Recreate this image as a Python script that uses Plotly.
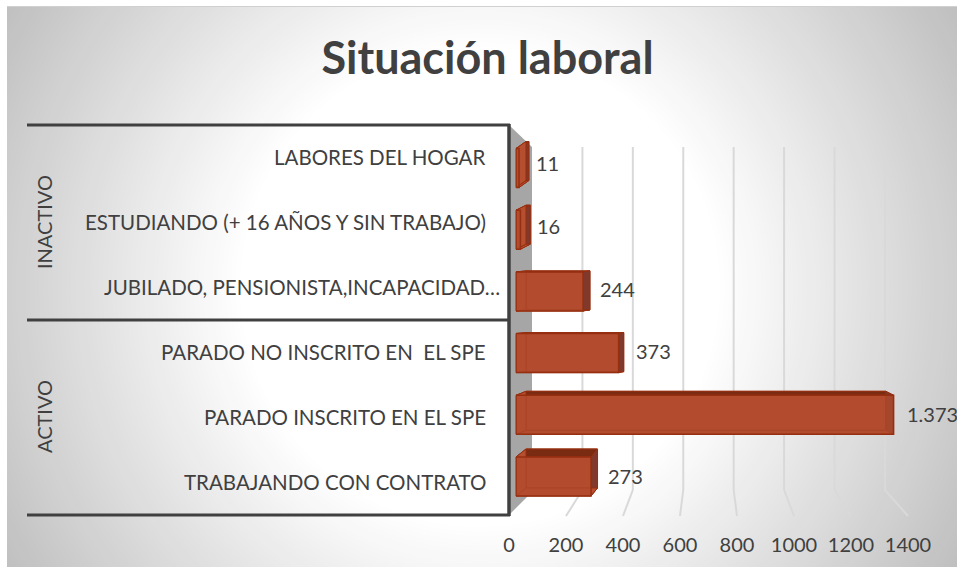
import plotly.graph_objects as go

W, H = 957, 578

categories = ["TRABAJANDO CON CONTRATO", "PARADO INSCRITO EN EL SPE", "PARADO NO INSCRITO EN  EL SPE",
              "JUBILADO, PENSIONISTA,INCAPACIDAD…", "ESTUDIANDO (+ 16 AÑOS Y SIN TRABAJO)", "LABORES DEL HOGAR"]
values = [273, 1373, 373, 244, 16, 11]
groups = ["ACTIVO", "INACTIVO"]
tick_values = [0, 200, 400, 600, 800, 1000, 1200, 1400]

FONT = "Lato"
TXT = "#404040"


def px(x):
    return x / W


def py(y):
    return 1 - y / H


# pixel geometry of the fake 3-D box
BAR_X0, BAR_K = 516, 0.275          # front plane of the bars
BACK_X0, BACK_K = 526, 0.262        # rear plane of the bars
TICK_X0, TICK_K = 509, 0.285        # floor front edge, carries tick labels
GRID_X0, GRID_K = 532, 0.2521       # back wall, carries gridlines
ROW0, ROW_STEP, BAR_H = 476.5, -61.7, 39
DEPTH_DY = [-8, -4, -1, -1, -5, -7]
LABEL_SHIFT = [0, 0, 0, 14, 0, 0]
VALUE_DY = [1, 1, 2, 2, 4, 5]
LABEL_LEFT = 488

shapes = []


def poly(points, fill, line="rgba(0,0,0,0)", lw=0, layer="below"):
    path = "M " + " L ".join(f"{px(x):.5f} {py(y):.5f}" for x, y in points) + " Z"
    shapes.append(dict(type="path", xref="paper", yref="paper", path=path, fillcolor=fill,
                       line=dict(color=line, width=lw), layer=layer))


def seg(x0, y0, x1, y1, color, lw):
    shapes.append(dict(type="line", xref="paper", yref="paper", x0=px(x0), y0=py(y0), x1=px(x1), y1=py(y1),
                       line=dict(color=color, width=lw), layer="below"))


# radial background
CX, CY, R_IN, R_OUT = 480, 287, 240, 560
STEPS = 70
for i in range(STEPS + 1):
    t = 1 - i / STEPS
    r = R_IN + (R_OUT - R_IN) * t
    g = round(255 - (255 - 190) * t)
    shapes.append(dict(type="circle", xref="paper", yref="paper", x0=px(CX - r), x1=px(CX + r),
                       y0=py(CY + r), y1=py(CY - r), fillcolor=f"rgb({g},{g},{g})",
                       line=dict(width=0), layer="below"))

# white margin around the chart area
poly([(0, 0), (W, 0), (W, 6), (0, 6)], "white")
poly([(0, 0), (7, 0), (7, H), (0, H)], "white")
poly([(0, 567), (W, 567), (W, H), (0, H)], "white")
seg(7, 6.5, W, 6.5, "#d0d0d0", 1)

# back-wall gridlines and floor lines
GRID_TOP, GRID_BOT, FLOOR = 147, 490, 516
for v in tick_values[1:]:
    gx = GRID_X0 + GRID_K * v
    tx = TICK_X0 + TICK_K * v
    col = "#d9d9d9"
    seg(gx, GRID_TOP, gx, GRID_BOT, col, 2)
    seg(gx, GRID_BOT, tx, FLOOR, col, 2)

# side wall
poly([(509, 125), (532, 147), (532, 492), (509, 515)], "#a6a6a6")

# category box
BOX = "#404040"
seg(27, 125, 510, 125, BOX, 3)
seg(27, 320, 510, 320, BOX, 3)
seg(27, 515, 510, 515, BOX, 3)
seg(509, 124, 509, 516, BOX, 3.5)

# rear faces of the bars, derived from the values
EDGE = "#962f10"
for i, v in enumerate(values):
    c = ROW0 + ROW_STEP * i
    ft, fb = c - BAR_H / 2, c + BAR_H / 2
    bt, bb = ft + DEPTH_DY[i], fb + DEPTH_DY[i]
    fr = BAR_X0 + BAR_K * v
    bl, br = BACK_X0, BACK_X0 + BACK_K * v
    poly([(bl, bt), (br, bt), (br, bb), (bl, bb)], "#b64e30", EDGE, 1)
    poly([(BAR_X0, ft), (bl, bt), (br, bt), (fr, ft)], "#7a2c12", EDGE, 1)
    poly([(fr, ft), (br, bt), (br, bb), (fr, fb)], "#80392a", EDGE, 1)
    poly([(BAR_X0, fb), (bl, bb), (br, bb), (fr, fb)], "#b64e30", EDGE, 1)
    poly([(BAR_X0, ft), (bl, bt), (bl, bb), (BAR_X0, fb)], "#b64e30", EDGE, 1)

fig = go.Figure()

# bars: their own axes, scaled to the front plane
fig.add_trace(go.Bar(x=values, y=categories, orientation="h", xaxis="x", yaxis="y", width=BAR_H / abs(ROW_STEP),
                     marker=dict(color="rgba(178,76,47,0.72)", line=dict(color=EDGE, width=1.5)),
                     hoverinfo="x+y", showlegend=False))
# anchor trace for the tick/label axes
fig.add_trace(go.Scatter(x=[0] * len(categories), y=categories, xaxis="x2", yaxis="y2", mode="markers",
                         marker=dict(opacity=0), hoverinfo="skip", showlegend=False))

annotations = []
for i, cat in enumerate(categories):
    annotations.append(dict(text=cat.replace("  ", "&nbsp; "), xref="paper", yref="y2", x=px(LABEL_LEFT), y=cat, xanchor="right",
                            yanchor="middle", xshift=LABEL_SHIFT[i], yshift=1, showarrow=False,
                            font=dict(family=FONT, size=20.5, color=TXT)))
    annotations.append(dict(text=f"{values[i]:,}".replace(",", "."), xref="x", yref="y", x=values[i], y=cat,
                            xanchor="left", yanchor="middle", xshift=11 if values[i] > 1000 else 15,
                            yshift=VALUE_DY[i], showarrow=False,
                            font=dict(family=FONT, size=20, color=TXT)))
for grp, y_c in zip(groups, [417, 222]):
    annotations.append(dict(text=grp, xref="paper", yref="paper", x=px(44), y=py(y_c), xanchor="center",
                            yanchor="middle", textangle=-90, showarrow=False,
                            font=dict(family=FONT, size=20, color=TXT)))

fig.update_layout(
    width=W, height=H, autosize=False, margin=dict(l=0, r=0, t=0, b=0, pad=0, autoexpand=False),
    paper_bgcolor="white", plot_bgcolor="rgba(0,0,0,0)", showlegend=False, barmode="overlay",
    title=dict(text="<b>Situación laboral</b>", x=487.5 / W, xanchor="center", y=py(58), yanchor="middle",
               font=dict(family=FONT, size=45, color=TXT)),
    font=dict(family=FONT, color=TXT),
    shapes=shapes, annotations=annotations,
    xaxis=dict(domain=[px(BAR_X0), px(BAR_X0 + BAR_K * 1400)], range=[0, 1400], visible=False, anchor="y", automargin=False),
    yaxis=dict(domain=[0, 1], range=[(ROW0 - H) / -ROW_STEP, ROW0 / -ROW_STEP], visible=False, automargin=False,
               type="category", categoryorder="array", categoryarray=categories, anchor="x"),
    xaxis2=dict(domain=[px(TICK_X0), px(TICK_X0 + TICK_K * 1400)], range=[0, 1400], anchor="y2", automargin=False,
                tickmode="array", tickvals=tick_values, ticktext=[str(t) for t in tick_values],
                showgrid=False, zeroline=False, showline=False, ticks="", ticklabelstandoff=16,
                tickfont=dict(family=FONT, size=20, color=TXT)),
    yaxis2=dict(domain=[py(515), py(125)], range=[-0.5, 5.5], type="category", categoryorder="array", automargin=False,
                categoryarray=categories, anchor="x2", showticklabels=False, showgrid=False,
                zeroline=False, showline=False, ticks=""),
)
fig.write_html("out.html", config={"displayModeBar": False},
               post_script="document.body.style.margin='0';document.body.style.overflow='hidden';")
